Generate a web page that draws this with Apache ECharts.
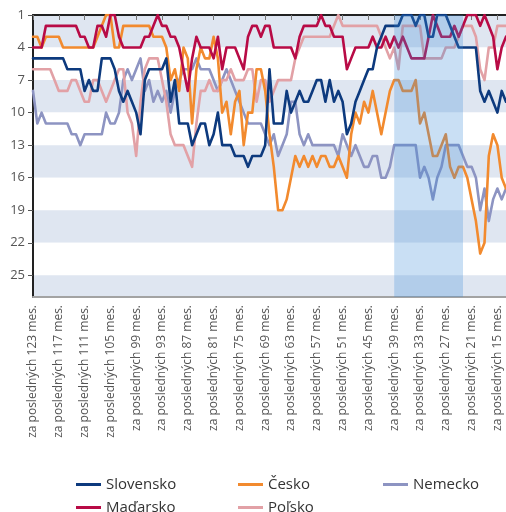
<!DOCTYPE html>
<html>
<head>
<meta charset="utf-8">
<script src="https://cdn.jsdelivr.net/npm/echarts@6/dist/echarts.min.js"></script>
<style>
  html, body { margin: 0; padding: 0; background: #fff; }
  #chart { width: 506px; height: 512px; }
</style>
</head>
<body>
<div id="chart"></div>
<script>
// months back, from 123 down to 13
const months = []
for (let m = 123; m >= 13; m--) months.push(m)
const categories = months.map((m) => "za posledných " + m + " mes.")

// rank of each country (1 = best)
const slovensko = [
  5, 5, 5, 5, 5, 5, 5, 5, 6, 6, 6, 6, 8, 7, 8, 8, 5, 5, 5, 6,
  8, 9, 8, 9, 10, 12, 7, 6, 6, 6, 6, 5, 9, 7, 11, 11, 11, 13, 12, 11,
  11, 13, 12, 10, 13, 13, 13, 14, 14, 14, 15, 14, 14, 14, 13, 6, 11, 11, 11, 8,
  10, 9, 8, 9, 9, 8, 7, 7, 9, 7, 9, 8, 9, 12, 11, 9, 8, 7, 6, 6,
  4, 3, 2, 2, 2, 2, 1, 1, 1, 2, 1, 1, 3, 3, 1, 1, 1, 2, 3, 4,
  4, 4, 4, 4, 8, 9, 8, 9, 10, 8, 9
]
const cesko = [
  3, 3, 4, 3, 3, 3, 3, 4, 4, 4, 4, 4, 4, 4, 4, 3, 2, 1, 1, 4,
  4, 2, 2, 2, 2, 2, 2, 2, 3, 3, 3, 4, 7, 6, 8, 4, 5, 11, 6, 4,
  5, 5, 3, 5, 10, 9, 12, 9, 8, 13, 10, 10, 6, 6, 8, 12, 15, 19, 19, 18,
  16, 14, 15, 14, 15, 14, 15, 14, 14, 15, 15, 14, 15, 16, 12, 10, 11, 9, 10, 8,
  10, 12, 10, 8, 7, 7, 8, 8, 8, 7, 11, 10, 12, 14, 14, 13, 12, 15, 16, 15,
  15, 16, 18, 20, 23, 22, 14, 12, 13, 16, 17
]
const nemecko = [
  8, 11, 10, 11, 11, 11, 11, 11, 11, 12, 12, 13, 12, 12, 12, 12, 12, 10, 11, 11,
  10, 7, 6, 7, 6, 5, 8, 7, 9, 8, 9, 8, 10, 8, 7, 6, 6, 6, 5, 6,
  6, 6, 7, 8, 7, 6, 7, 8, 9, 10, 11, 11, 11, 11, 12, 13, 12, 14, 13, 12,
  9, 9, 12, 13, 12, 13, 13, 13, 13, 13, 13, 14, 12, 13, 14, 13, 14, 15, 15, 14,
  14, 16, 16, 15, 13, 13, 13, 13, 13, 13, 16, 15, 16, 18, 16, 15, 13, 13, 13, 13,
  14, 15, 15, 16, 19, 17, 20, 18, 17, 18, 17
]
const madarsko = [
  4, 4, 4, 2, 2, 2, 2, 2, 2, 2, 2, 3, 3, 4, 4, 2, 2, 3, 1, 1,
  3, 4, 4, 4, 4, 4, 3, 3, 2, 1, 2, 2, 3, 3, 4, 6, 8, 5, 3, 4,
  4, 4, 5, 3, 6, 4, 4, 4, 5, 6, 3, 2, 2, 3, 2, 2, 4, 4, 4, 4,
  4, 5, 3, 2, 2, 2, 2, 1, 2, 2, 3, 3, 3, 6, 5, 4, 4, 4, 4, 3,
  4, 4, 3, 4, 3, 4, 3, 4, 5, 5, 5, 5, 3, 1, 2, 3, 3, 3, 2, 3,
  2, 1, 1, 1, 2, 1, 2, 3, 6, 4, 3
]
const polsko = [
  6, 6, 6, 6, 6, 7, 8, 8, 8, 7, 7, 8, 9, 9, 7, 7, 8, 9, 8, 7,
  6, 6, 10, 11, 14, 9, 6, 5, 5, 5, 7, 9, 12, 13, 13, 13, 14, 15, 11, 8,
  8, 7, 8, 8, 7, 7, 6, 7, 7, 7, 6, 6, 9, 7, 7, 9, 8, 7, 7, 7,
  7, 5, 4, 3, 3, 3, 3, 3, 3, 3, 2, 1, 2, 2, 2, 2, 2, 2, 2, 2,
  2, 3, 4, 5, 4, 6, 2, 2, 2, 2, 2, 5, 5, 5, 5, 5, 4, 4, 4, 3,
  2, 2, 2, 3, 6, 7, 4, 4, 2, 2, 2
]

// highlighted period
const highlightFrom = "za posledných 39 mes."
const highlightTo = "za posledných 23 mes."

const chart = echarts.init(document.getElementById("chart"))

const font = "'Open Sans', 'Noto Sans', sans-serif"

const lineSeries = (name, data, color, z) => ({
  name,
  type: "line",
  data,
  showSymbol: false,
  symbol: "none",
  lineStyle: { color, width: 2.6, join: "round", cap: "round" },
  itemStyle: { color },
  z,
  animation: false,
})

const legendItem = (name, left, top) => ({
  data: [name],
  left,
  top,
  icon: "rect",
  itemWidth: 25,
  itemHeight: 3,
  selectedMode: false,
  textStyle: { color: "#333", fontSize: 15, fontFamily: font },
})

const option = {
  animation: false,
  grid: { left: 33, top: 15, width: 475, height: 282 },
  legend: [
    legendItem("Slovensko", 71, 472),
    legendItem("Česko", 233, 472),
    legendItem("Nemecko", 378, 472),
    legendItem("Maďarsko", 71, 495),
    legendItem("Poľsko", 233, 495),
  ],
  xAxis: [
    {
      type: "category",
      data: categories,
      boundaryGap: false,
      axisLine: { onZero: false, lineStyle: { color: "#a3a3a3", width: 2 } },
      axisTick: { show: false },
      axisLabel: {
        interval: 5,
        rotate: 90,
        margin: 8,
        color: "#555",
        fontSize: 12,
        fontFamily: font,
      },
      splitLine: { show: false },
    },
    {
      type: "category",
      data: categories,
      position: "top",
      boundaryGap: false,
      axisLine: { onZero: false, lineStyle: { color: "#222", width: 2 } },
      axisTick: { show: true, inside: true, interval: 5, length: 5, lineStyle: { color: "#777", width: 1 } },
      axisLabel: { show: false },
      splitLine: { show: false },
    },
  ],
  yAxis: {
    type: "value",
    inverse: true,
    min: 1,
    max: 27,
    interval: 3,
    axisLine: { show: true, lineStyle: { color: "#222", width: 2 } },
    axisTick: { show: true, length: 5, lineStyle: { color: "#555" } },
    axisLabel: { color: "#555", fontSize: 13, fontFamily: font, margin: 8, showMaxLabel: false },
    splitLine: { show: false },
    splitArea: { show: true, areaStyle: { color: ["#dfe6f1", "#ffffff"] } },
  },
  series: [
    lineSeries("Nemecko", nemecko, "#8d94c2", 2),
    lineSeries("Poľsko", polsko, "#e2a1a6", 3),
    lineSeries("Česko", cesko, "#f28a2e", 4),
    lineSeries("Maďarsko", madarsko, "#b80b46", 5),
    lineSeries("Slovensko", slovensko, "#0d3a7e", 6),
    {
      name: "highlight",
      type: "line",
      data: [],
      markArea: {
        silent: true,
        z: 10,
        itemStyle: { color: "rgba(60, 140, 215, 0.28)" },
        data: [[{ xAxis: highlightFrom }, { xAxis: highlightTo }]],
      },
    },
  ],
}

chart.setOption(option)

window.addEventListener("resize", () => chart.resize())
</script>
</body>
</html>
